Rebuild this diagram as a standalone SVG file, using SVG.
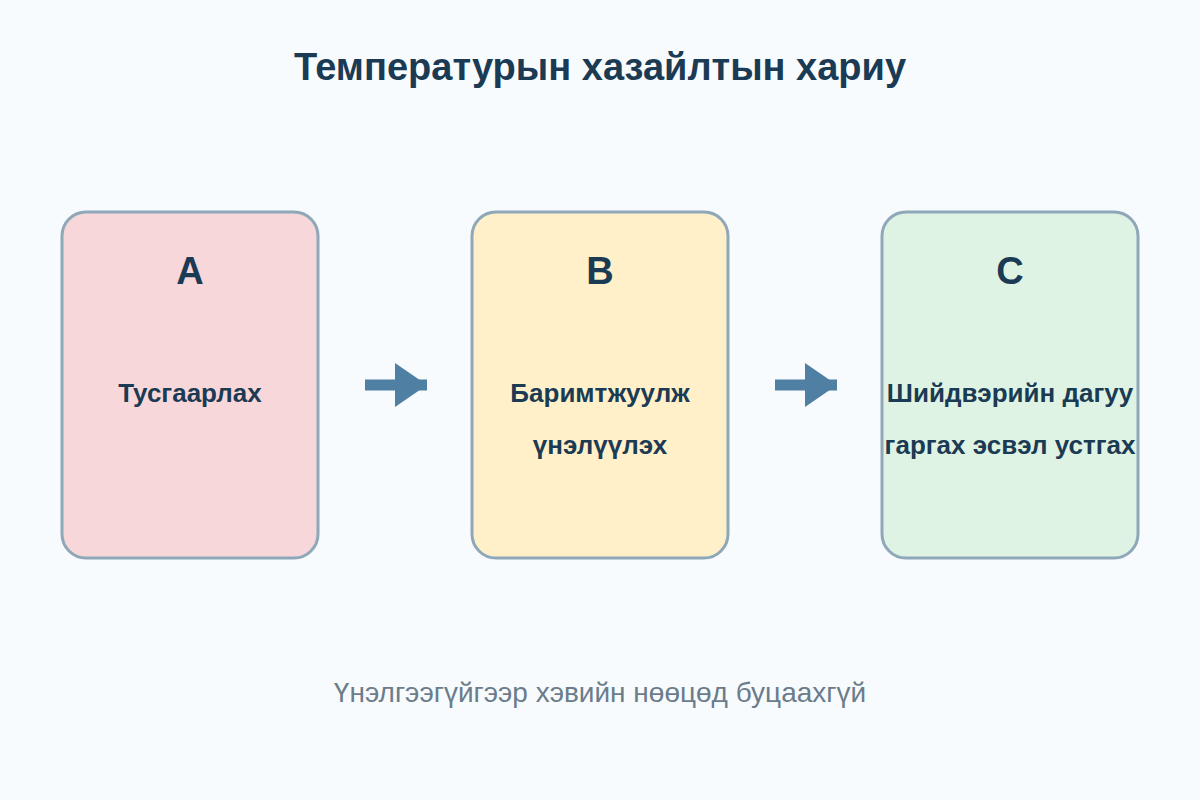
<svg xmlns="http://www.w3.org/2000/svg" width="1200" height="800" viewBox="0 0 1200 800">
<defs>
<style>
.card{stroke:#8fa8b9;stroke-width:3}
.t{font-family:"Liberation Sans",Arial,sans-serif;font-weight:bold;fill:#1b3a53;text-anchor:middle}
.letter{font-size:38px}
.lbl{font-size:26px}
.conn{stroke:#4f7fa3;stroke-width:11;fill:none}
</style>
<marker id="ah" markerUnits="userSpaceOnUse" markerWidth="32" markerHeight="44" refX="32" refY="22" orient="auto">
<path d="M0,0 L32,22 L0,44 Z" fill="#4f7fa3"/>
</marker>
</defs>
<rect width="1200" height="800" fill="#f8fbfd"/>
<text class="t" x="600" y="80" font-size="38">Температурын хазайлтын хариу</text>
<g id="nodeA">
<rect class="card" x="62" y="212" width="256" height="346" rx="24" fill="#f8d7da"/>
<text class="t letter" x="190" y="284">A</text>
<text class="t lbl" x="190" y="402">Тусгаарлах</text>
</g>
<g id="nodeB">
<rect class="card" x="472" y="212" width="256" height="346" rx="24" fill="#fff0c9"/>
<text class="t letter" x="600" y="284">B</text>
<text class="t lbl" x="600" y="402">Баримтжуулж</text>
<text class="t lbl" x="600" y="454">үнэлүүлэх</text>
</g>
<g id="nodeC">
<rect class="card" x="882" y="212" width="256" height="346" rx="24" fill="#dff3e4"/>
<text class="t letter" x="1010" y="284">C</text>
<text class="t lbl" x="1010" y="402">Шийдвэрийн дагуу</text>
<text class="t lbl" x="1010" y="454">гаргах эсвэл устгах</text>
</g>
<g id="connectors">
<line class="conn" x1="365" y1="385" x2="427" y2="385" marker-end="url(#ah)"/>
<line class="conn" x1="775" y1="385" x2="837" y2="385" marker-end="url(#ah)"/>
</g>
<text x="600" y="702" font-family="'Liberation Sans',Arial,sans-serif" font-size="28" fill="#6b7c8b" text-anchor="middle">Үнэлгээгүйгээр хэвийн нөөцөд буцаахгүй</text>
</svg>
